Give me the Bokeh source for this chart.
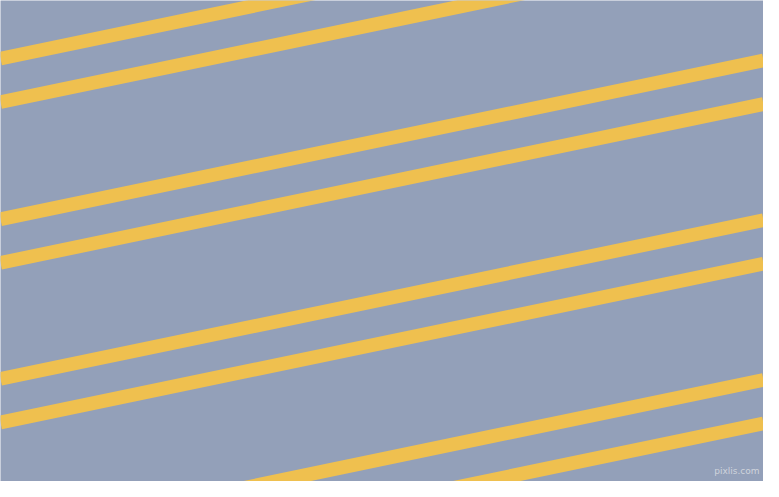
from bokeh.plotting import figure
from bokeh.models import Range1d
from bokeh.embed import file_html
from bokeh.resources import INLINE
from bokeh.core.properties import value

# stripe centre lines: y where each crosses the left edge (x=0) and right edge (x=779)
left_y = [60, 105, 226, 271, 391, 436, 556, 601]
right_y = [-104, -59, 62, 107, 227, 272, 392, 437]
x_left = [0] * len(left_y)
x_right = [779] * len(right_y)

bg = "#93a0b9"
stripe = "#efc04f"

p = figure(width=763, height=481, output_backend="svg", toolbar_location=None,
           x_range=Range1d(0, 779), y_range=Range1d(497, 0),
           x_axis_location=None, y_axis_location=None, min_border=0)
p.xgrid.visible = False
p.ygrid.visible = False
p.outline_line_color = None
p.background_fill_color = bg
p.border_fill_color = bg

p.segment(x0=x_left, y0=left_y, x1=x_right, y1=right_y,
          line_color=stripe, line_width=13.7, line_cap="butt")

p.text(x=[775], y=[491], text=["pixlis.com"], text_align="right", text_baseline="bottom",
       text_font=value("DejaVu Sans"), text_font_size="9px", text_color="#cfd4dc")

open("out.html", "w").write(file_html(p, INLINE))
